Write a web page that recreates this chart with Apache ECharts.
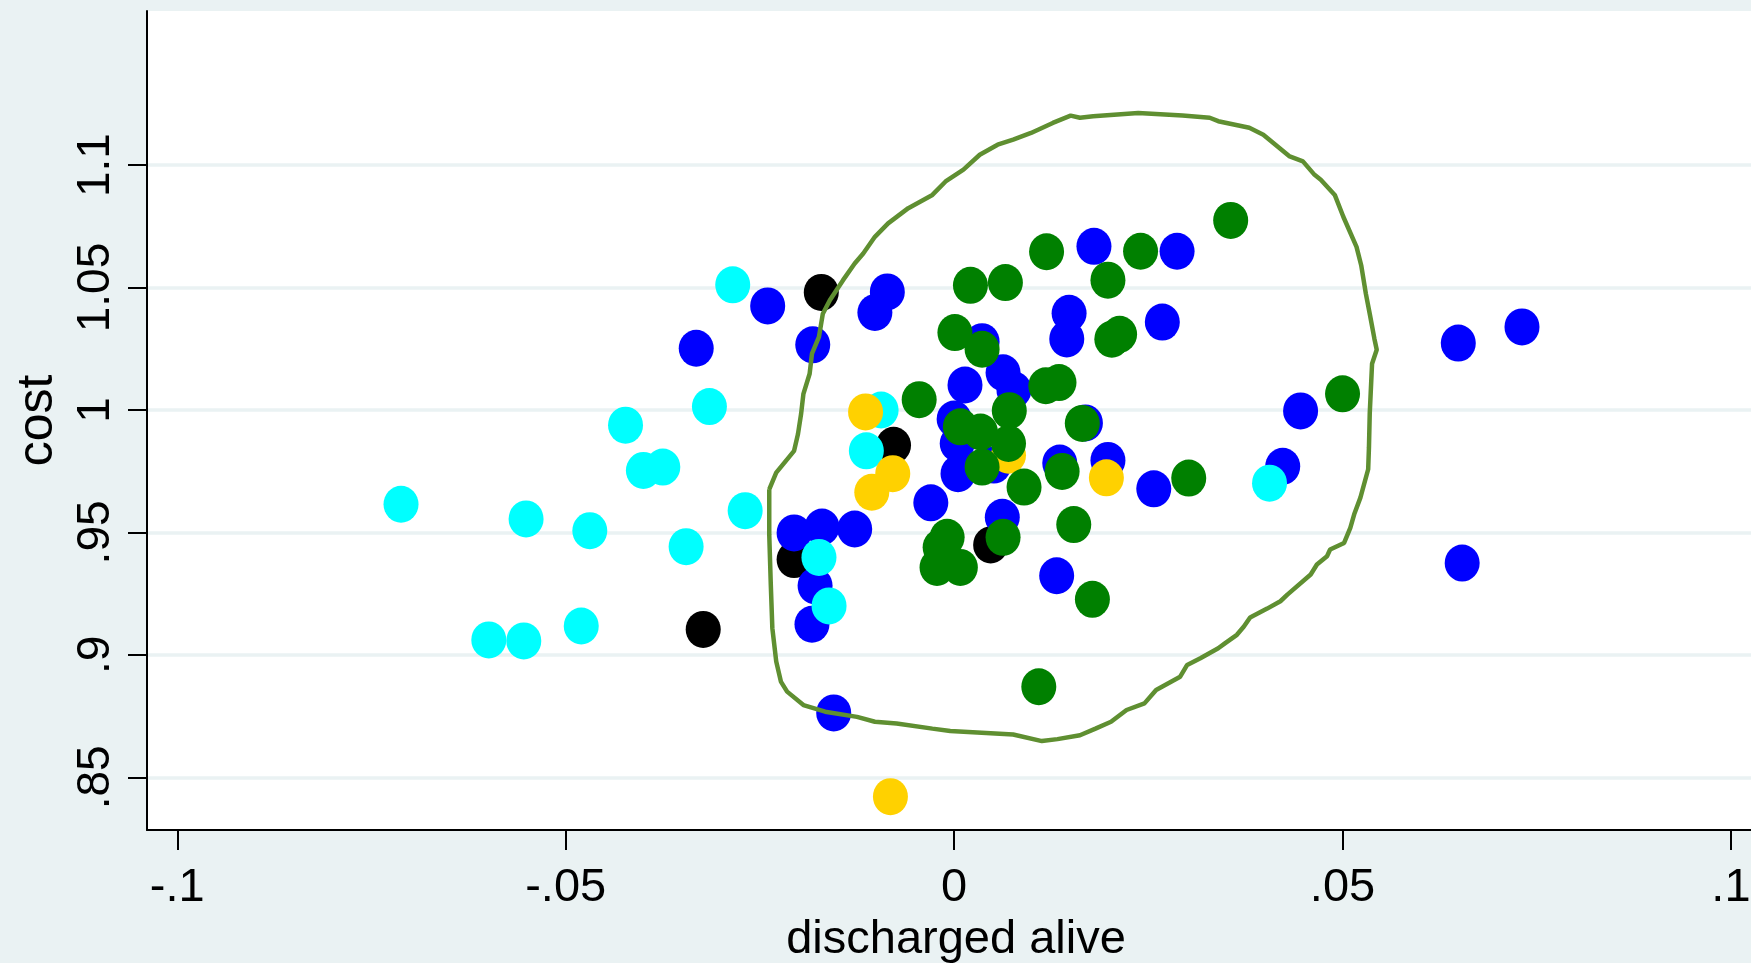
<!DOCTYPE html>
<html>
<head>
<meta charset="utf-8">
<script src="https://cdn.jsdelivr.net/npm/echarts@6/dist/echarts.min.js"></script>
<style>
html,body{margin:0;padding:0;background:#eaf2f3;}
#chart{width:1751px;height:963px;}
</style>
</head>
<body>
<div id="chart"></div>
<script>
// ---- data (discharged alive, cost) ----
const xTicks = [-0.1, -0.05, 0, 0.05, 0.1];
const yTicks = [0.85, 0.9, 0.95, 1, 1.05, 1.1];
const xTitle = 'discharged alive';
const yTitle = 'cost';

const blackPts = [
  [-0.0171, 1.0480], [-0.0078, 0.9856], [-0.0206, 0.9389], [-0.0323, 0.9104], [0.0047, 0.9449]
];
const bluePts = [
  [-0.0240, 1.0425], [-0.0182, 1.0266], [-0.0086, 1.0482], [-0.0102, 1.0398], [-0.0332, 1.0252],
  [0.0180, 1.0668], [0.0287, 1.0648], [0.0148, 1.0395], [0.0145, 1.0290], [0.0268, 1.0359],
  [0.0036, 1.0279], [0.0063, 1.0152], [0.0077, 1.0082], [0.0014, 1.0102], [0.0169, 0.9947],
  [0.0446, 0.9996], [0.0649, 1.0273], [0.0731, 1.0339], [0.0654, 0.9375], [0.0423, 0.9770],
  [0.0257, 0.9678], [0.0198, 0.9794], [0.0136, 0.9783], [0.0000, 0.9963], [0.0004, 0.9863],
  [0.0005, 0.9740], [0.0051, 0.9775], [-0.0030, 0.9621], [0.0062, 0.9562], [0.0132, 0.9323],
  [-0.0206, 0.9498], [-0.0170, 0.9522], [-0.0128, 0.9514], [-0.0179, 0.9282], [-0.0183, 0.9125],
  [-0.0155, 0.8763]
];
const cyanPts = [
  [-0.0712, 0.9615], [-0.0551, 0.9555], [-0.0469, 0.9507], [-0.0423, 0.9938], [-0.0400, 0.9753],
  [-0.0375, 0.9767], [-0.0345, 0.9442], [-0.0315, 1.0014], [-0.0285, 1.0511], [-0.0269, 0.9589],
  [-0.0599, 0.9061], [-0.0554, 0.9057], [-0.0480, 0.9118], [-0.0094, 1.0000], [-0.0113, 0.9833],
  [-0.0174, 0.9398], [-0.0161, 0.9200], [0.0406, 0.9701]
];
const yellowPts = [
  [-0.0114, 0.9992], [-0.0079, 0.9740], [-0.0106, 0.9664], [0.0196, 0.9723], [-0.0082, 0.8421],
  [0.0070, 0.9815]
];
const greenPts = [
  [0.0356, 1.0774], [0.0119, 1.0646], [0.0240, 1.0648], [0.0021, 1.0509], [0.0066, 1.0520],
  [0.0198, 1.0530], [0.0001, 1.0316], [0.0036, 1.0248], [0.0213, 1.0309], [0.0203, 1.0289],
  [0.0118, 1.0099], [0.0135, 1.0112], [-0.0045, 1.0042], [0.0071, 0.9997], [0.0165, 0.9945],
  [0.0500, 1.0066], [0.0008, 0.9931], [0.0034, 0.9910], [0.0070, 0.9863], [0.0036, 0.9767],
  [0.0090, 0.9685], [0.0139, 0.9749], [0.0302, 0.9722], [0.0154, 0.9532], [0.0063, 0.9480],
  [-0.0009, 0.9480], [-0.0018, 0.9439], [-0.0022, 0.9357], [0.0008, 0.9357], [0.0178, 0.9227],
  [0.0109, 0.8870]
];
const contourPts = [
  [-0.0238, 0.9676], [-0.0238, 0.9492], [-0.0236, 0.9287], [-0.0234, 0.9109], [-0.0229, 0.8973],
  [-0.0223, 0.8891], [-0.0215, 0.8850], [-0.0194, 0.8795], [-0.0166, 0.8768], [-0.0125, 0.8747],
  [-0.0102, 0.8727], [-0.0074, 0.8720], [-0.0028, 0.8699], [-0.0005, 0.8689], [0.0076, 0.8675],
  [0.0113, 0.8648], [0.0133, 0.8656], [0.0162, 0.8672], [0.0182, 0.8699], [0.0202, 0.8727],
  [0.0222, 0.8775], [0.0245, 0.8802], [0.0260, 0.8857], [0.0291, 0.8911], [0.0300, 0.8959],
  [0.0317, 0.8986], [0.0340, 0.9027], [0.0349, 0.9048], [0.0364, 0.9082], [0.0373, 0.9116],
  [0.0381, 0.9153], [0.0403, 0.9189], [0.0420, 0.9219], [0.0429, 0.9246], [0.0459, 0.9328],
  [0.0467, 0.9369], [0.0480, 0.9403], [0.0484, 0.9430], [0.0502, 0.9457], [0.0510, 0.9519],
  [0.0515, 0.9574], [0.0523, 0.9642], [0.0533, 0.9758], [0.0534, 0.9847], [0.0535, 0.9984],
  [0.0538, 1.0189], [0.0544, 1.0246], [0.0541, 1.0291], [0.0535, 1.0393], [0.0530, 1.0475],
  [0.0524, 1.0591], [0.0518, 1.0666], [0.0501, 1.0789], [0.0490, 1.0878], [0.0472, 1.0940],
  [0.0464, 1.0960], [0.0449, 1.1015], [0.0432, 1.1035], [0.0398, 1.1124], [0.0380, 1.1152],
  [0.0340, 1.1179], [0.0329, 1.1193], [0.0294, 1.1202], [0.0237, 1.1213], [0.0179, 1.1199],
  [0.0162, 1.1193], [0.0150, 1.1202], [0.0127, 1.1172], [0.0099, 1.1131], [0.0076, 1.1104],
  [0.0056, 1.1083], [0.0033, 1.1042], [0.0012, 1.0981], [-0.0011, 1.0933], [-0.0028, 1.0878],
  [-0.0059, 1.0824], [-0.0085, 1.0762], [-0.0102, 1.0707], [-0.0117, 1.0639], [-0.0128, 1.0598],
  [-0.0143, 1.0530], [-0.0160, 1.0448], [-0.0169, 1.0393], [-0.0174, 1.0298], [-0.0183, 1.0230],
  [-0.0186, 1.0148], [-0.0194, 1.0066], [-0.0197, 0.9984], [-0.0201, 0.9902], [-0.0206, 0.9833],
  [-0.0220, 0.9779], [-0.0229, 0.9744], [-0.0238, 0.9676]
];

// ---- chart ----
function fmt(v) {
  let s = String(+Number(v).toFixed(4));
  return s.replace(/^(-?)0\./, '$1.');
}
const FONT = '"Liberation Sans", Arial, Helvetica, sans-serif';
const chart = echarts.init(document.getElementById('chart'), null, {renderer: 'canvas'});
const markerSize = [35, 37];
function scatter(name, data, color) {
  return {
    name: name, type: 'scatter', data: data, symbol: 'circle', symbolSize: markerSize,
    itemStyle: {color: color, opacity: 1}, emphasis: {disabled: true}, silent: true
  };
}
chart.setOption({
  backgroundColor: '#eaf2f3',
  animation: false,
  grid: {
    left: 147, right: 0, top: 11, bottom: 133, show: true, backgroundColor: '#ffffff', borderWidth: 0,
    containLabel: false, outerBoundsMode: 'none'
  },
  xAxis: {
    type: 'value', min: -0.1039, max: 0.10258,
    name: xTitle, nameLocation: 'middle', nameGap: 84,
    nameTextStyle: {fontFamily: FONT, fontSize: 47, color: '#000', padding: [0, 0, 0, 14]},
    axisLine: {show: true, onZero: false, lineStyle: {color: '#000', width: 2}},
    axisTick: {show: true, length: 20, lineStyle: {color: '#000', width: 2}, customValues: xTicks},
    axisLabel: {fontFamily: FONT, fontSize: 47, color: '#000', margin: 35, customValues: xTicks, formatter: fmt},
    splitLine: {show: false}
  },
  yAxis: {
    type: 'value', min: 0.8285, max: 1.1629,
    name: yTitle, nameLocation: 'middle', nameGap: 84, nameRotate: 90,
    nameTextStyle: {fontFamily: FONT, fontSize: 50, color: '#000'},
    axisLine: {show: true, onZero: false, lineStyle: {color: '#000', width: 2}},
    axisTick: {show: true, length: 19, lineStyle: {color: '#000', width: 2}, customValues: yTicks},
    axisLabel: {fontFamily: FONT, fontSize: 46, color: '#000', margin: 28, rotate: 90, customValues: yTicks, formatter: fmt},
    splitLine: {show: true, lineStyle: {color: '#eaf2f3', width: 3.5}}
  },
  series: [
    scatter('black', blackPts, '#000000'),
    scatter('blue', bluePts, '#0000ff'),
    scatter('cyan', cyanPts, '#00ffff'),
    scatter('yellow', yellowPts, '#ffd100'),
    scatter('green', greenPts, '#008000'),
    {
      name: 'contour', type: 'line', data: contourPts, showSymbol: false, symbol: 'none',
      smooth: false, lineStyle: {color: '#5f8f31', width: 4.5}, z: 5, silent: true
    }
  ]
});
</script>
</body>
</html>
